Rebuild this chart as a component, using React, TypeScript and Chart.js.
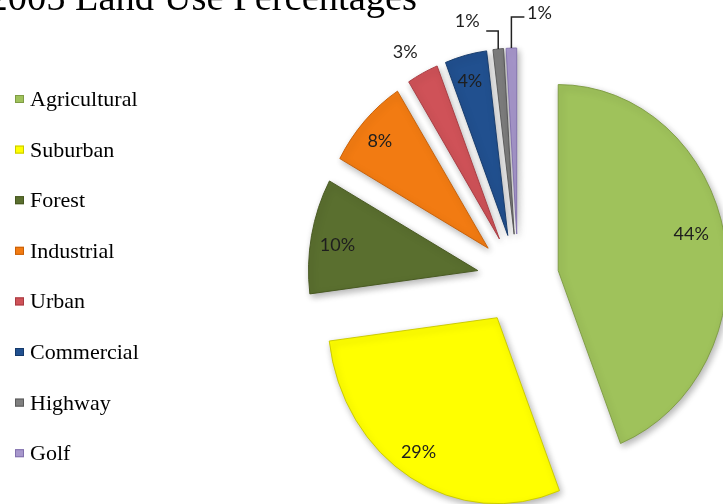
import React, { useEffect, useRef } from 'react';
import { Chart, registerables } from 'chart.js';

Chart.register(...registerables);

// ---- data ----
const TITLE = '2005 Land Use Percentages';
const categories = ['Agricultural', 'Suburban', 'Forest', 'Industrial', 'Urban', 'Commercial', 'Highway', 'Golf'];
const percentages = [44, 29, 10, 8, 3, 4, 1, 1];

// ---- styles ----
const sliceColors = ['#9fc25b', '#ffff00', '#5a6f2f', '#f27b12', '#cf5258', '#21508f', '#7f7f7f', '#a797cc'];
const sliceEdges = ['#7f9c44', '#c9c900', '#46571f', '#c75f06', '#a83b41', '#153a6b', '#5a5a5a', '#8271ad'];

const CANVAS_W = 1036;
const CANVAS_H = 558;
const PIE_RADIUS = 186;
const EXPLODE = 180; // Chart.js translates each arc by offset / 4
const SQUEEZE_X = 0.91;

type Placement = { k?: number; f?: number; leader?: { up: number; side: number; dx: number; dy: number } };
const labelPlacement: Placement[] = [
  { k: 0.81, f: 0.48 },
  { k: 0.86, f: 0.52 },
  { k: 0.84, f: 0.46 },
  { k: 0.86, f: 0.455 },
  { k: 1.15, f: 0.32 },
  { k: 0.86, f: 0.45 },
  { leader: { up: 18, side: -12, dx: -19, dy: -10 } },
  { leader: { up: 31, side: 13, dx: 15, dy: -4 } },
];

// Chart.js grows an exploded arc's radius and trims its angle; undo that so
// every slice keeps the same radius and its true angular width.
const pieAdjust = {
  id: 'pieAdjust',
  afterDatasetUpdate(chart: any, args: any) {
    args.meta.data.forEach((arc: any) => {
      const t = ((arc.options && arc.options.offset) || 0) / 4;
      const circ = arc.circumference;
      const fix = 1 - Math.sin(Math.min(Math.PI, circ));
      const o = t * fix;
      const R = arc.outerRadius;
      arc.outerRadius = R - o;
      const widen = o / (Math.PI * R) / 2;
      arc.startAngle = arc.startAngle - widen;
      arc.endAngle = arc.endAngle + widen;
    });
  },
  beforeDatasetsDraw(chart: any) {
    const ctx = chart.ctx;
    const arc = chart.getDatasetMeta(0).data[0];
    ctx.save();
    ctx.translate(arc.x, 0);
    ctx.scale(SQUEEZE_X, 1);
    ctx.translate(-arc.x, 0);
    ctx.shadowColor = 'rgba(0,0,0,0.3)';
    ctx.shadowBlur = 7;
    ctx.shadowOffsetX = 2;
    ctx.shadowOffsetY = 3;
  },
  afterDatasetsDraw(chart: any) {
    chart.ctx.restore();
  },
};

const overlay = {
  id: 'overlay',
  afterDraw(chart: any) {
    const ctx = chart.ctx;
    const arcs = chart.getDatasetMeta(0).data;
    ctx.save();
    // slice labels
    ctx.font = '18px Lato';
    ctx.textAlign = 'center';
    ctx.textBaseline = 'middle';
    arcs.forEach((arc: any, i: number) => {
      const t = ((arc.options && arc.options.offset) || 0) / 4;
      const circ = arc.circumference;
      const mid = (arc.startAngle + arc.endAngle) / 2;
      const start = mid - circ / 2;
      const fix = 1 - Math.sin(Math.min(Math.PI, circ));
      const r = arc.outerRadius + t * fix;
      const ax = arc.x + Math.cos(mid) * t;
      const ay = arc.y + Math.sin(mid) * t;
      const sx = (x: number) => arc.x + (x - arc.x) * SQUEEZE_X;
      const p = labelPlacement[i];
      const text = percentages[i] + '%';
      ctx.fillStyle = '#1e1e1e';
      if (p.leader) {
        const tipX = sx(ax + Math.cos(mid) * r);
        const tipY = ay + Math.sin(mid) * r;
        const elbowY = tipY - p.leader.up;
        const endX = tipX + p.leader.side;
        ctx.strokeStyle = '#222';
        ctx.lineWidth = 1.5;
        ctx.beginPath();
        ctx.moveTo(tipX, tipY);
        ctx.lineTo(tipX, elbowY);
        ctx.lineTo(endX, elbowY);
        ctx.stroke();
        ctx.fillText(text, endX + p.leader.dx, elbowY + p.leader.dy);
      } else {
        const a = start + circ * (p.f as number);
        const lx = sx(ax + Math.cos(a) * r * (p.k as number));
        const ly = ay + Math.sin(a) * r * (p.k as number);
        ctx.fillText(text, lx, ly);
      }
    });

    // legend
    ctx.font = '22px "Liberation Serif"';
    ctx.textAlign = 'left';
    ctx.textBaseline = 'alphabetic';
    categories.forEach((c, i) => {
      const y = 106 + i * 50.6;
      ctx.fillStyle = sliceColors[i];
      ctx.fillRect(15, y - 11, 9, 8);
      ctx.strokeStyle = sliceEdges[i];
      ctx.lineWidth = 1;
      ctx.strokeRect(15.5, y - 10.5, 8, 7);
      ctx.fillStyle = '#000';
      ctx.fillText(c, 30, y);
    });

    // title (partly outside the frame, as in the reference)
    ctx.font = '38.5px "Liberation Serif"';
    ctx.fillStyle = '#000';
    const pre = ctx.measureText('2005 ').width;
    ctx.fillText(TITLE, 75 - pre, 10);
    ctx.restore();
  },
};

export default function App() {
  const ref = useRef<HTMLCanvasElement | null>(null);
  useEffect(() => {
    if (!ref.current) return;
    const chart = new Chart(ref.current, {
      type: 'pie',
      data: {
        labels: categories,
        datasets: [
          {
            data: percentages,
            backgroundColor: sliceColors,
            borderColor: sliceEdges,
            borderWidth: 1,
            offset: EXPLODE,
            hoverOffset: 0,
          },
        ],
      },
      options: {
        responsive: false,
        animation: false,
        radius: PIE_RADIUS,
        events: [],
        layout: { padding: 0 },
        plugins: {
          legend: { display: false },
          title: { display: false },
          tooltip: { enabled: false },
        },
      } as any,
      plugins: [pieAdjust, overlay],
    });
    return () => chart.destroy();
  }, []);
  return (
    <div style={{ position: 'fixed', left: 0, top: 0, width: 723, height: 504, overflow: 'hidden', background: '#fff' }}>
      <canvas ref={ref} width={CANVAS_W} height={CANVAS_H} style={{ display: 'block', width: CANVAS_W, height: CANVAS_H }} />
    </div>
  );
}
